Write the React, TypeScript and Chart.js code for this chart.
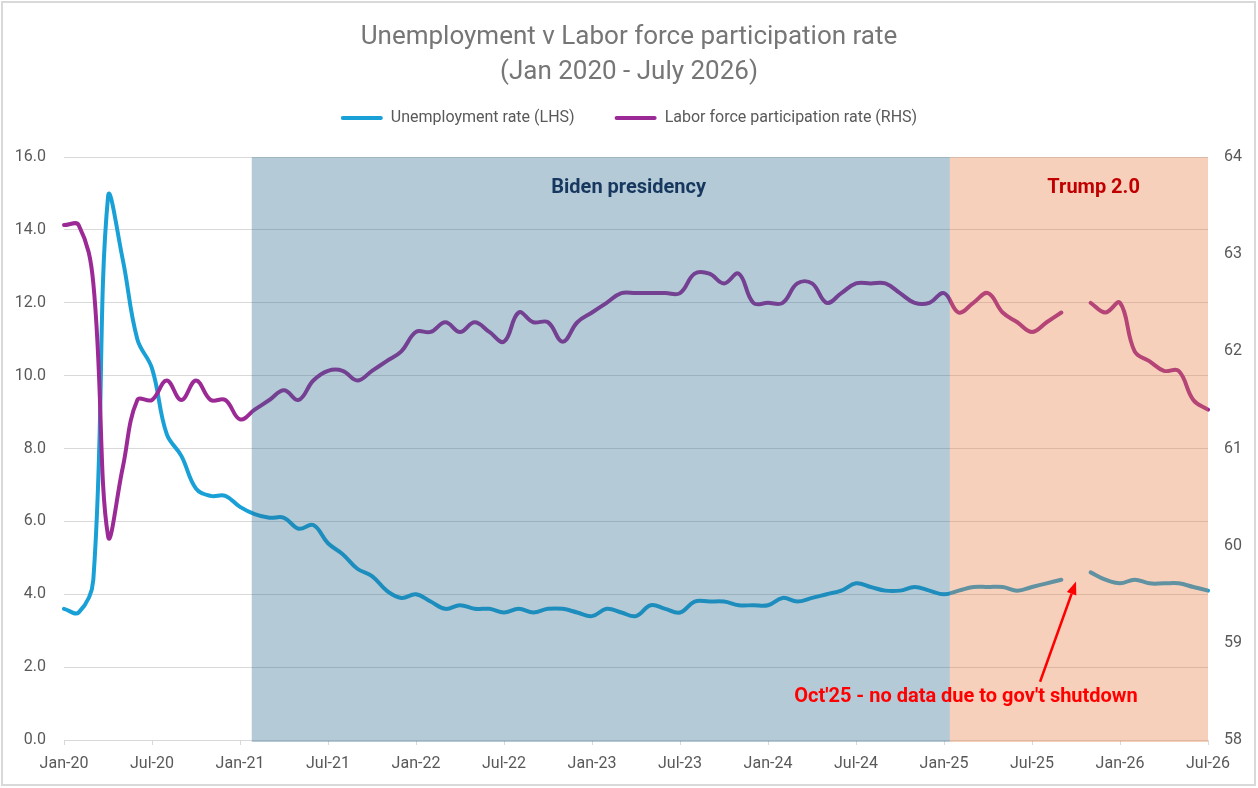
import React, { useEffect, useRef } from "react";
import { Chart, registerables } from "chart.js";

Chart.register(...registerables);

// ---------- DATA ----------
const months = [
  "Jan-20", "Feb-20", "Mar-20", "Apr-20", "May-20", "Jun-20", "Jul-20", "Aug-20", "Sep-20", "Oct-20", "Nov-20", "Dec-20",
  "Jan-21", "Feb-21", "Mar-21", "Apr-21", "May-21", "Jun-21", "Jul-21", "Aug-21", "Sep-21", "Oct-21", "Nov-21", "Dec-21",
  "Jan-22", "Feb-22", "Mar-22", "Apr-22", "May-22", "Jun-22", "Jul-22", "Aug-22", "Sep-22", "Oct-22", "Nov-22", "Dec-22",
  "Jan-23", "Feb-23", "Mar-23", "Apr-23", "May-23", "Jun-23", "Jul-23", "Aug-23", "Sep-23", "Oct-23", "Nov-23", "Dec-23",
  "Jan-24", "Feb-24", "Mar-24", "Apr-24", "May-24", "Jun-24", "Jul-24", "Aug-24", "Sep-24", "Oct-24", "Nov-24", "Dec-24",
  "Jan-25", "Feb-25", "Mar-25", "Apr-25", "May-25", "Jun-25", "Jul-25", "Aug-25", "Sep-25", "Oct-25", "Nov-25", "Dec-25",
  "Jan-26", "Feb-26", "Mar-26", "Apr-26", "May-26", "Jun-26", "Jul-26",
];

// Unemployment rate (LHS, %)
const unemploymentRate: (number | null)[] = [
  3.6, 3.5, 4.4, 14.9, 13.2, 11.0, 10.2, 8.4, 7.8, 6.9, 6.7, 6.7,
  6.4, 6.2, 6.1, 6.1, 5.8, 5.9, 5.4, 5.1, 4.7, 4.5, 4.1, 3.9,
  4.0, 3.8, 3.6, 3.7, 3.6, 3.6, 3.5, 3.6, 3.5, 3.6, 3.6, 3.5,
  3.4, 3.6, 3.5, 3.4, 3.7, 3.6, 3.5, 3.8, 3.8, 3.8, 3.7, 3.7,
  3.7, 3.9, 3.8, 3.9, 4.0, 4.1, 4.3, 4.2, 4.1, 4.1, 4.2, 4.1,
  4.0, 4.1, 4.2, 4.2, 4.2, 4.1, 4.2, 4.3, 4.4, null, 4.6, 4.4,
  4.3, 4.4, 4.3, 4.3, 4.3, 4.2, 4.1,
];

// Labor force participation rate (RHS, %)
const participationRate: (number | null)[] = [
  63.3, 63.3, 62.7, 60.1, 60.8, 61.5, 61.5, 61.7, 61.5, 61.7, 61.5, 61.5,
  61.3, 61.4, 61.5, 61.6, 61.5, 61.7, 61.8, 61.8, 61.7, 61.8, 61.9, 62.0,
  62.2, 62.2, 62.3, 62.2, 62.3, 62.2, 62.1, 62.4, 62.3, 62.3, 62.1, 62.3,
  62.4, 62.5, 62.6, 62.6, 62.6, 62.6, 62.6, 62.8, 62.8, 62.7, 62.8, 62.5,
  62.5, 62.5, 62.7, 62.7, 62.5, 62.6, 62.7, 62.7, 62.7, 62.6, 62.5, 62.5,
  62.6, 62.4, 62.5, 62.6, 62.4, 62.3, 62.2, 62.3, 62.4, null, 62.5, 62.4,
  62.5, 62.0, 61.9, 61.8, 61.8, 61.5, 61.4,
];

const seriesNames = ["Unemployment rate (LHS)", "Labor force participation rate (RHS)"];
const titleLines = ["Unemployment v Labor force participation rate", "(Jan 2020 - July 2026)"];

// Shaded periods (in month-index units along the category axis)
const periodNames = ["Biden presidency", "Trump 2.0"];
const periodStart = [12.8, 60.4];
const periodEnd = [60.4, 78];
const periodLabelAt = [38.5, 70.2];
const periodLabelValue = 15.15;

// Annotation
const noteText = "Oct'25 - no data due to gov't shutdown";
const noteAt = 61.5;
const noteValue = 1.18;
const arrowFrom = [66.55, 1.6];
const arrowTo = [69, 4.35];

// ---------- STYLE ----------
const BLUE = "#18A0D7";
const PURPLE = "#9B2A96";
const GRID = "#D9D9D9";
const TEXT = "#595959";
const FONT = "Roboto, 'Open Sans', sans-serif";
const periodFill = ["rgba(40,106,140,0.35)", "rgba(232,121,64,0.35)"];
const periodTextColor = ["#17375E", "#C00000"];

const overlayPlugin = {
  id: "overlay",
  afterDatasetsDraw(chart: any) {
    const { ctx, chartArea, scales } = chart;
    const x = scales.x;
    const y = scales.y;
    ctx.save();
    periodNames.forEach((_, i) => {
      const x0 = x.getPixelForValue(periodStart[i]);
      const x1 = x.getPixelForValue(periodEnd[i]);
      ctx.fillStyle = periodFill[i];
      ctx.fillRect(x0, chartArea.top, x1 - x0, chartArea.bottom - chartArea.top + 2);
    });
    ctx.textAlign = "center";
    ctx.textBaseline = "middle";
    ctx.font = `bold 20px ${FONT}`;
    periodNames.forEach((name, i) => {
      ctx.fillStyle = periodTextColor[i];
      ctx.fillText(name, x.getPixelForValue(periodLabelAt[i]), y.getPixelForValue(periodLabelValue));
    });
    // annotation text
    ctx.fillStyle = "#FF0000";
    ctx.font = `bold 20px ${FONT}`;
    ctx.fillText(noteText, x.getPixelForValue(noteAt), y.getPixelForValue(noteValue));
    // arrow
    const ax = x.getPixelForValue(arrowFrom[0]);
    const ay = y.getPixelForValue(arrowFrom[1]);
    const bx = x.getPixelForValue(arrowTo[0]);
    const by = y.getPixelForValue(arrowTo[1]);
    const ang = Math.atan2(by - ay, bx - ax);
    const headLen = 13;
    const headW = 5;
    const hx = bx - headLen * Math.cos(ang);
    const hy = by - headLen * Math.sin(ang);
    ctx.strokeStyle = "#FF0000";
    ctx.lineWidth = 2.5;
    ctx.beginPath();
    ctx.moveTo(ax, ay);
    ctx.lineTo(hx, hy);
    ctx.stroke();
    ctx.beginPath();
    ctx.moveTo(bx, by);
    ctx.lineTo(hx + headW * Math.sin(ang), hy - headW * Math.cos(ang));
    ctx.lineTo(hx - headW * Math.sin(ang), hy + headW * Math.cos(ang));
    ctx.closePath();
    ctx.fillStyle = "#FF0000";
    ctx.fill();
    ctx.restore();
  },
  afterDraw(chart: any) {
    const { ctx, width, height } = chart;
    ctx.save();
    ctx.strokeStyle = GRID;
    ctx.lineWidth = 2;
    ctx.strokeRect(2, 2, width - 5, height - 5);
    ctx.restore();
  },
};

export default function App() {
  const ref = useRef<HTMLCanvasElement | null>(null);

  useEffect(() => {
    document.body.style.margin = "0";
    if (!ref.current) return;
    const chart = new Chart(ref.current, {
      type: "line",
      data: {
        labels: months,
        datasets: [
          {
            label: seriesNames[0],
            data: unemploymentRate,
            yAxisID: "y",
            borderColor: BLUE,
            backgroundColor: BLUE,
            borderWidth: 4,
            pointRadius: 0,
            tension: 0.4,
            spanGaps: false,
            borderCapStyle: "round",
            borderJoinStyle: "round",
            order: 1,
          },
          {
            label: seriesNames[1],
            data: participationRate,
            yAxisID: "y2",
            borderColor: PURPLE,
            backgroundColor: PURPLE,
            borderWidth: 4,
            pointRadius: 0,
            tension: 0.4,
            spanGaps: false,
            borderCapStyle: "round",
            borderJoinStyle: "round",
            order: 0,
          },
        ],
      },
      options: {
        animation: false,
        responsive: false,
        devicePixelRatio: 1,
        layout: { padding: 0 },
        plugins: {
          title: {
            display: true,
            text: titleLines,
            color: "#767676",
            font: { family: FONT, size: 26, weight: "normal", lineHeight: 1.34 },
            padding: { top: 20, bottom: -19.6 },
          },
          legend: {
            display: true,
            position: "top",
            reverse: true,
            labels: {
              boxWidth: 42,
              boxHeight: 4,
              padding: 40,
              color: TEXT,
              font: { family: FONT, size: 16 },
              useBorderRadius: true,
              borderRadius: 2,
              generateLabels(c: any) {
                const items = (Chart.defaults.plugins.legend.labels as any).generateLabels(c);
                return items.map((it: any) => ({ ...it, lineWidth: 0 }));
              },
            },
          },
          subtitle: {
            display: true,
            text: "",
            position: "top",
            weight: 500,
            font: { size: 1, lineHeight: 1 },
            padding: { top: 20, bottom: 0 },
          },
          tooltip: { enabled: false },
        },
        scales: {
          x: {
            type: "category",
            offset: false,
            grid: {
              drawOnChartArea: false,
              drawTicks: true,
              tickLength: 5,
              color: (c: any) => (c.index % 6 === 0 ? GRID : "rgba(0,0,0,0)"),
            },
            border: { display: true, color: GRID, width: 1 },
            ticks: {
              autoSkip: false,
              maxRotation: 0,
              padding: 9,
              color: TEXT,
              font: { family: FONT, size: 16 },
              callback: (_v: any, i: number) => (i % 6 === 0 ? months[i] : ""),
            },
            afterFit: (s: any) => {
              s.height = 48;
            },
          },
          y: {
            position: "left",
            min: 0,
            max: 16,
            grid: { color: GRID, drawTicks: false, lineWidth: 1 },
            border: { display: false },
            ticks: {
              stepSize: 2,
              padding: 18,
              color: TEXT,
              font: { family: FONT, size: 16 },
              callback: (v: any) => Number(v).toFixed(1),
            },
            afterFit: (s: any) => {
              s.width = 64;
            },
          },
          y2: {
            position: "right",
            min: 58,
            max: 64,
            grid: { drawOnChartArea: false, drawTicks: false },
            border: { display: false },
            ticks: {
              stepSize: 1,
              padding: 16,
              color: TEXT,
              font: { family: FONT, size: 16 },
            },
            afterFit: (s: any) => {
              s.width = 50;
            },
          },
        },
      },
      plugins: [overlayPlugin],
    } as any);
    return () => chart.destroy();
  }, []);

  return (
    <div style={{ width: 1258, height: 788, background: "#fff" }}>
      <canvas ref={ref} width={1258} height={788} style={{ display: "block", width: 1258, height: 788 }} />
    </div>
  );
}
